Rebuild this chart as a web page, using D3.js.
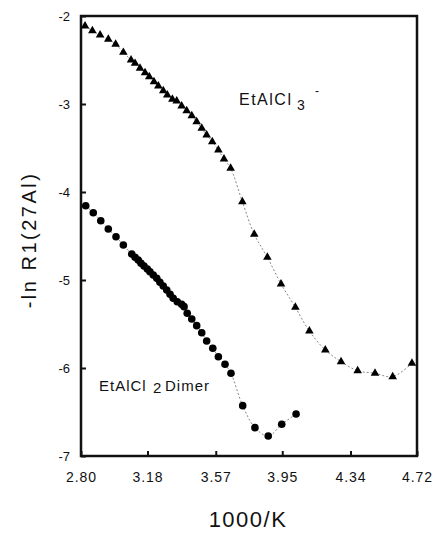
<!DOCTYPE html>
<html>
<head>
<meta charset="utf-8">
<script src="https://cdn.jsdelivr.net/npm/d3@7"></script>
<style>
  body { margin: 0; background: #fff; }
  text { font-family: "Liberation Sans", Arial, sans-serif; fill: #111; }
</style>
</head>
<body>
<div id="chart"></div>
<script>
// EtAlCl2 dimer (circles)
const dimerX = [2.827, 2.870, 2.913, 2.956, 3.000, 3.042, 3.090, 3.109, 3.127, 3.143,
  3.160, 3.179, 3.194, 3.213, 3.233, 3.251, 3.270, 3.290, 3.309, 3.327,
  3.350, 3.375, 3.389, 3.407, 3.433, 3.461, 3.490, 3.518, 3.553, 3.585,
  3.623, 3.657, 3.724, 3.794, 3.870, 3.947, 4.029];
const dimerY = [-4.156, -4.235, -4.326, -4.420, -4.508, -4.602, -4.705, -4.742, -4.773, -4.810,
  -4.841, -4.875, -4.906, -4.943, -4.981, -5.026, -5.068, -5.114, -5.163, -5.208,
  -5.247, -5.276, -5.303, -5.378, -5.443, -5.519, -5.599, -5.693, -5.776, -5.872,
  -5.958, -6.060, -6.428, -6.678, -6.773, -6.640, -6.523];

// EtAlCl3- anion (triangles)
const anionX = [2.823, 2.865, 2.909, 2.956, 2.998, 3.042, 3.086, 3.109, 3.137, 3.166,
  3.190, 3.217, 3.242, 3.270, 3.293, 3.322, 3.347, 3.375, 3.404, 3.433,
  3.461, 3.490, 3.518, 3.550, 3.585, 3.617, 3.655, 3.722, 3.790, 3.865,
  3.943, 4.025, 4.105, 4.196, 4.286, 4.381, 4.480, 4.581, 4.691];
const anionY = [-2.114, -2.167, -2.216, -2.265, -2.322, -2.413, -2.500, -2.538, -2.594, -2.644,
  -2.690, -2.747, -2.795, -2.849, -2.898, -2.947, -2.966, -3.023, -3.076, -3.133,
  -3.201, -3.276, -3.352, -3.428, -3.523, -3.625, -3.731, -4.110, -4.481, -4.742,
  -5.045, -5.310, -5.580, -5.795, -5.928, -6.031, -6.060, -6.099, -5.947];

const xTicks = [2.80, 3.18, 3.57, 3.95, 4.34, 4.72];
const yTicks = [-2, -3, -4, -5, -6, -7];

const margin = {top: 16, right: 17, bottom: 77, left: 81};
const width = 434 - margin.left - margin.right,
  height = 533 - margin.top - margin.bottom;

const svgRoot = d3.select('#chart').append('svg')
  .attr('width', 434)
  .attr('height', 533);

const svg = svgRoot.append('g')
  .attr('transform', `translate(${margin.left}, ${margin.top})`);

const xScale = d3.scaleLinear().domain([2.80, 4.72]).range([0, width]);
const yScale = d3.scaleLinear().domain([-7, -2]).range([height, 0]);

// axes with inward ticks
const xAxis = d3.axisBottom(xScale)
  .tickValues(xTicks)
  .tickFormat(d3.format('.2f'))
  .tickSizeInner(-5)
  .tickSizeOuter(0)
  .tickPadding(16);

const yAxis = d3.axisLeft(yScale)
  .tickValues(yTicks)
  .tickFormat(d => d)
  .tickSizeInner(-5)
  .tickSizeOuter(0)
  .tickPadding(11);

const xg = svg.append('g')
  .attr('transform', `translate(0, ${height})`)
  .call(xAxis);
xg.select('.domain').remove();
xg.selectAll('line').attr('stroke', '#111').attr('stroke-width', 2);
xg.selectAll('text').attr('font-size', 14).attr('letter-spacing', 1)
  .attr('font-family', '"Liberation Sans", Arial, sans-serif').attr('fill', '#111');

const yg = svg.append('g').call(yAxis);
yg.select('.domain').remove();
yg.selectAll('line').attr('stroke', '#111').attr('stroke-width', 2);
yg.selectAll('text').attr('font-size', 13)
  .attr('font-family', '"Liberation Sans", Arial, sans-serif').attr('fill', '#111');

// frame
svg.append('rect')
  .attr('x', 0).attr('y', 0)
  .attr('width', width).attr('height', height)
  .attr('fill', 'none')
  .attr('stroke', '#111')
  .attr('stroke-width', 2.5);

const dimer = dimerX.map((x, i) => ({x, y: dimerY[i]}));
const anion = anionX.map((x, i) => ({x, y: anionY[i]}));

const line = d3.line()
  .x(d => xScale(d.x))
  .y(d => yScale(d.y))
  .curve(d3.curveCatmullRom);

[dimer, anion].forEach(series => {
  svg.append('path')
    .datum(series)
    .attr('d', line)
    .attr('fill', 'none')
    .attr('stroke', '#888')
    .attr('stroke-width', 1)
    .attr('stroke-dasharray', '2,2');
});

svg.selectAll('circle.dimer')
  .data(dimer)
  .enter()
  .append('circle')
  .attr('class', 'dimer')
  .attr('cx', d => xScale(d.x))
  .attr('cy', d => yScale(d.y))
  .attr('r', 3.8)
  .attr('fill', '#000');

const tri = d3.symbol().type(d3.symbolTriangle).size(32);
svg.selectAll('path.anion')
  .data(anion)
  .enter()
  .append('path')
  .attr('class', 'anion')
  .attr('d', tri)
  .attr('transform', d => `translate(${xScale(d.x)}, ${yScale(d.y)})`)
  .attr('fill', '#000');

// series labels
const lab1 = svgRoot.append('text')
  .attr('x', 239).attr('y', 104.5)
  .attr('font-size', 16)
  .attr('letter-spacing', 1.5);
lab1.append('tspan').text('EtAlCl');
lab1.append('tspan').attr('x', 297).attr('dy', 5).attr('font-size', 14).text('3');
lab1.append('tspan').attr('x', 315).attr('dy', -15).attr('font-size', 12).text('-');

const lab2 = svgRoot.append('text')
  .attr('x', 99).attr('y', 391)
  .attr('font-size', 15)
  .attr('letter-spacing', 1);
lab2.append('tspan').text('EtAlCl');
lab2.append('tspan').attr('x', 153).attr('dy', 2).text('2');
lab2.append('tspan').attr('x', 165).attr('dy', -2).text('Dimer');

// axis titles
svgRoot.append('text')
  .attr('x', 248).attr('y', 527)
  .attr('text-anchor', 'middle')
  .attr('font-size', 22)
  .attr('letter-spacing', 1.5)
  .text('1000/K');

svgRoot.append('text')
  .attr('transform', 'translate(36, 240) rotate(-90)')
  .attr('text-anchor', 'middle')
  .attr('font-size', 20)
  .attr('letter-spacing', 2.5)
  .text('-ln R1(27Al)');
</script>
</body>
</html>
